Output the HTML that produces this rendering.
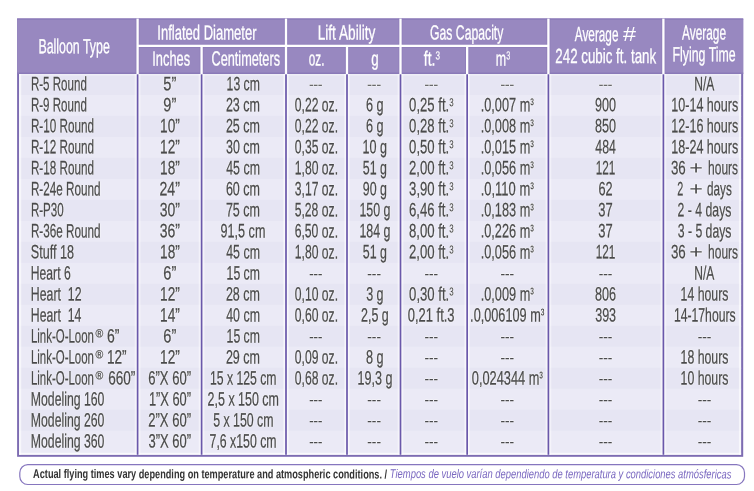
<!DOCTYPE html>
<html lang="en"><head><meta charset="utf-8"><title>Balloon chart</title>
<style>
html,body{margin:0;padding:0;background:#fff;}
body{width:754px;height:491px;position:relative;overflow:hidden;font-family:"Liberation Sans",sans-serif;}
svg{position:absolute;left:0;top:0;}
.t{position:absolute;white-space:nowrap;line-height:1;display:block;transform-origin:0 50%;text-rendering:geometricPrecision;}
.b{color:#4a4a4c;font-size:19.3px;-webkit-text-stroke:0.3px;text-shadow:0 0 1.2px #fff,0 0 1.2px #fff,0 0 1.2px #fff,0 0 2px #fff;}
.h{color:#fff;font-size:20.4px;-webkit-text-stroke:0.3px;}
.f{color:#333;font-size:12.6px;}
.g{color:#7a68c0;font-size:12.6px;}
sup{font-size:60%;vertical-align:baseline;position:relative;top:-0.44em;line-height:0;-webkit-text-stroke:0.15px;}
sup.m{font-size:52%;top:-0.62em;font-weight:bold;-webkit-text-stroke:0;}
sup.hs{font-size:58%;top:-0.52em;}
</style></head><body>
<svg width="754" height="491" viewBox="0 0 754 491">
<rect x="17.10" y="18.60" width="726.10" height="438.20" fill="#7d6cb2"/>
<rect x="17.10" y="18.60" width="726.10" height="55.40" fill="#9888c0"/>
<rect x="17.10" y="18.60" width="726.10" height="1.20" fill="#8a7ab8"/>
<rect x="17.10" y="72.50" width="726.10" height="1.50" fill="#8a7ab8"/>
<rect x="19.00" y="74.00" width="722.10" height="21.98" fill="#e6e5f3"/>
<rect x="19.00" y="94.98" width="722.10" height="21.98" fill="#ebeaf6"/>
<rect x="19.00" y="115.96" width="722.10" height="21.98" fill="#e6e5f3"/>
<rect x="19.00" y="136.94" width="722.10" height="21.98" fill="#ebeaf6"/>
<rect x="19.00" y="157.92" width="722.10" height="21.98" fill="#e6e5f3"/>
<rect x="19.00" y="178.90" width="722.10" height="21.98" fill="#ebeaf6"/>
<rect x="19.00" y="199.88" width="722.10" height="21.98" fill="#e6e5f3"/>
<rect x="19.00" y="220.86" width="722.10" height="21.98" fill="#ebeaf6"/>
<rect x="19.00" y="241.84" width="722.10" height="21.98" fill="#e6e5f3"/>
<rect x="19.00" y="262.82" width="722.10" height="21.98" fill="#ebeaf6"/>
<rect x="19.00" y="283.80" width="722.10" height="21.98" fill="#e6e5f3"/>
<rect x="19.00" y="304.78" width="722.10" height="21.98" fill="#ebeaf6"/>
<rect x="19.00" y="325.76" width="722.10" height="21.98" fill="#e6e5f3"/>
<rect x="19.00" y="346.74" width="722.10" height="21.98" fill="#ebeaf6"/>
<rect x="19.00" y="367.72" width="722.10" height="21.98" fill="#e6e5f3"/>
<rect x="19.00" y="388.70" width="722.10" height="21.98" fill="#ebeaf6"/>
<rect x="19.00" y="409.68" width="722.10" height="21.98" fill="#e6e5f3"/>
<rect x="19.00" y="430.66" width="722.10" height="24.14" fill="#ebeaf6"/>
<rect x="19.00" y="74.00" width="722.10" height="1.60" fill="#fff" opacity="0.35"/>
<rect x="19.00" y="452.80" width="722.10" height="2.00" fill="#fff" opacity="0.7"/>
<rect x="19.00" y="74.00" width="2.20" height="380.80" fill="#fff" opacity="0.6"/>
<rect x="738.90" y="74.00" width="2.20" height="380.80" fill="#fff" opacity="0.6"/>
<rect x="134.70" y="74.00" width="5.80" height="380.80" fill="#fff" opacity="0.4"/>
<rect x="135.70" y="74.00" width="3.80" height="380.80" fill="#fff" opacity="0.55"/>
<rect x="136.75" y="74.30" width="1.70" height="380.50" fill="#6a58aa"/>
<rect x="198.70" y="74.00" width="5.80" height="380.80" fill="#fff" opacity="0.4"/>
<rect x="199.70" y="74.00" width="3.80" height="380.80" fill="#fff" opacity="0.55"/>
<rect x="200.75" y="74.30" width="1.70" height="380.50" fill="#6a58aa"/>
<rect x="283.10" y="74.00" width="5.80" height="380.80" fill="#fff" opacity="0.4"/>
<rect x="284.10" y="74.00" width="3.80" height="380.80" fill="#fff" opacity="0.55"/>
<rect x="285.15" y="74.30" width="1.70" height="380.50" fill="#6a58aa"/>
<rect x="344.10" y="74.00" width="5.80" height="380.80" fill="#fff" opacity="0.4"/>
<rect x="345.10" y="74.00" width="3.80" height="380.80" fill="#fff" opacity="0.55"/>
<rect x="346.15" y="74.30" width="1.70" height="380.50" fill="#6a58aa"/>
<rect x="397.60" y="74.00" width="5.80" height="380.80" fill="#fff" opacity="0.4"/>
<rect x="398.60" y="74.00" width="3.80" height="380.80" fill="#fff" opacity="0.55"/>
<rect x="399.65" y="74.30" width="1.70" height="380.50" fill="#6a58aa"/>
<rect x="464.25" y="74.00" width="5.80" height="380.80" fill="#fff" opacity="0.4"/>
<rect x="465.25" y="74.00" width="3.80" height="380.80" fill="#fff" opacity="0.55"/>
<rect x="466.30" y="74.30" width="1.70" height="380.50" fill="#6a58aa"/>
<rect x="545.50" y="74.00" width="5.80" height="380.80" fill="#fff" opacity="0.4"/>
<rect x="546.50" y="74.00" width="3.80" height="380.80" fill="#fff" opacity="0.55"/>
<rect x="547.55" y="74.30" width="1.70" height="380.50" fill="#6a58aa"/>
<rect x="660.50" y="74.00" width="5.80" height="380.80" fill="#fff" opacity="0.4"/>
<rect x="661.50" y="74.00" width="3.80" height="380.80" fill="#fff" opacity="0.55"/>
<rect x="662.55" y="74.30" width="1.70" height="380.50" fill="#6a58aa"/>
<rect x="137.60" y="43.90" width="410.80" height="3.90" fill="#8a7ab8" opacity="0.6"/>
<rect x="135.55" y="18.60" width="4.10" height="55.40" fill="#8a7ab8" opacity="0.6"/>
<rect x="136.45" y="18.60" width="2.30" height="55.40" fill="#fff"/>
<rect x="283.95" y="18.60" width="4.10" height="55.40" fill="#8a7ab8" opacity="0.6"/>
<rect x="284.85" y="18.60" width="2.30" height="55.40" fill="#fff"/>
<rect x="398.45" y="18.60" width="4.10" height="55.40" fill="#8a7ab8" opacity="0.6"/>
<rect x="399.35" y="18.60" width="2.30" height="55.40" fill="#fff"/>
<rect x="546.35" y="18.60" width="4.10" height="55.40" fill="#8a7ab8" opacity="0.6"/>
<rect x="547.25" y="18.60" width="2.30" height="55.40" fill="#fff"/>
<rect x="661.35" y="18.60" width="4.10" height="55.40" fill="#8a7ab8" opacity="0.6"/>
<rect x="662.25" y="18.60" width="2.30" height="55.40" fill="#fff"/>
<rect x="199.55" y="45.85" width="4.10" height="28.15" fill="#8a7ab8" opacity="0.6"/>
<rect x="200.45" y="45.85" width="2.30" height="28.15" fill="#fff"/>
<rect x="344.95" y="45.85" width="4.10" height="28.15" fill="#8a7ab8" opacity="0.6"/>
<rect x="345.85" y="45.85" width="2.30" height="28.15" fill="#fff"/>
<rect x="465.10" y="45.85" width="4.10" height="28.15" fill="#8a7ab8" opacity="0.6"/>
<rect x="466.00" y="45.85" width="2.30" height="28.15" fill="#fff"/>
<rect x="137.60" y="44.70" width="410.80" height="2.30" fill="#fff"/>
<rect x="19.8" y="464.7" width="724.7" height="19.8" rx="8" ry="8" fill="#fff" stroke="#8676be" stroke-width="1.2"/>
</svg>
<div class="t b" style="left:30px;top:75px;transform:translate(0.90px,0.20px) scaleX(0.6000) rotate(0.05deg);">R-5 Round</div>
<div class="t b" style="left:30px;top:96px;transform:translate(0.90px,0.22px) scaleX(0.6000) rotate(0.05deg);">R-9 Round</div>
<div class="t b" style="left:30px;top:117px;transform:translate(0.89px,0.24px) scaleX(0.6074) rotate(0.05deg);">R-10 Round</div>
<div class="t b" style="left:30px;top:138px;transform:translate(0.89px,0.26px) scaleX(0.6074) rotate(0.05deg);">R-12 Round</div>
<div class="t b" style="left:30px;top:159px;transform:translate(0.89px,0.28px) scaleX(0.6074) rotate(0.05deg);">R-18 Round</div>
<div class="t b" style="left:30px;top:180px;transform:translate(0.89px,0.30px) scaleX(0.6071) rotate(0.05deg);">R-24e Round</div>
<div class="t b" style="left:30px;top:201px;transform:translate(0.90px,0.32px) scaleX(0.6000) rotate(0.05deg);">R-P30</div>
<div class="t b" style="left:30px;top:222px;transform:translate(0.89px,0.34px) scaleX(0.6071) rotate(0.05deg);">R-36e Round</div>
<div class="t b" style="left:30px;top:243px;transform:translate(0.81px,0.36px) scaleX(0.6533) rotate(0.05deg);">Stuff 18</div>
<div class="t b" style="left:30px;top:264px;transform:translate(0.86px,0.38px) scaleX(0.6295) rotate(0.05deg);">Heart 6</div>
<div class="t b" style="left:30px;top:285px;transform:translate(0.84px,0.40px) scaleX(0.6390) rotate(0.05deg);">Heart&nbsp; 12</div>
<div class="t b" style="left:30px;top:306px;transform:translate(0.84px,0.42px) scaleX(0.6369) rotate(0.05deg);">Heart&nbsp; 14</div>
<div class="t b" style="left:30px;top:327px;transform:translate(0.91px,0.44px) scaleX(0.5942) rotate(0.05deg);">Link-O-Loon</div>
<div class="t b" style="left:30px;top:348px;transform:translate(0.91px,0.46px) scaleX(0.5942) rotate(0.05deg);">Link-O-Loon</div>
<div class="t b" style="left:30px;top:369px;transform:translate(0.91px,0.48px) scaleX(0.5942) rotate(0.05deg);">Link-O-Loon</div>
<div class="t b" style="left:30px;top:390px;transform:translate(0.85px,0.50px) scaleX(0.6356) rotate(0.05deg);">Modeling 160</div>
<div class="t b" style="left:30px;top:411px;transform:translate(0.85px,0.52px) scaleX(0.6356) rotate(0.05deg);">Modeling 260</div>
<div class="t b" style="left:30px;top:432px;transform:translate(0.85px,0.54px) scaleX(0.6356) rotate(0.05deg);">Modeling 360</div>
<div class="t b" style="left:95px;top:328px;transform:translate(0.40px,0.24px) scaleX(0.9059) rotate(0.05deg);font-size:11.6px;-webkit-text-stroke:0.25px;">®</div>
<div class="t b" style="left:106px;top:327px;transform:translate(0.96px,0.44px) scaleX(0.7238) rotate(0.05deg);">6”</div>
<div class="t b" style="left:95px;top:349px;transform:translate(0.40px,0.26px) scaleX(0.9059) rotate(0.05deg);font-size:11.6px;-webkit-text-stroke:0.25px;">®</div>
<div class="t b" style="left:106px;top:348px;transform:translate(0.92px,0.46px) scaleX(0.7038) rotate(0.05deg);">12”</div>
<div class="t b" style="left:95px;top:370px;transform:translate(0.40px,0.28px) scaleX(0.9059) rotate(0.05deg);font-size:11.6px;-webkit-text-stroke:0.25px;">®</div>
<div class="t b" style="left:108px;top:369px;transform:translate(0.17px,0.48px) scaleX(0.7034) rotate(0.05deg);">660”</div>
<div class="t b" style="left:163px;top:75px;transform:translate(0.33px,0.20px) scaleX(0.7556) rotate(0.05deg);">5”</div>
<div class="t b" style="left:163px;top:96px;transform:translate(0.33px,0.22px) scaleX(0.7556) rotate(0.05deg);">9”</div>
<div class="t b" style="left:160px;top:117px;transform:translate(0.12px,0.24px) scaleX(0.7077) rotate(0.05deg);">10”</div>
<div class="t b" style="left:160px;top:138px;transform:translate(0.12px,0.26px) scaleX(0.7077) rotate(0.05deg);">12”</div>
<div class="t b" style="left:160px;top:159px;transform:translate(0.12px,0.28px) scaleX(0.7077) rotate(0.05deg);">18”</div>
<div class="t b" style="left:159px;top:180px;transform:translate(0.45px,0.30px) scaleX(0.7321) rotate(0.05deg);">24”</div>
<div class="t b" style="left:159px;top:201px;transform:translate(0.64px,0.32px) scaleX(0.7252) rotate(0.05deg);">30”</div>
<div class="t b" style="left:159px;top:222px;transform:translate(0.64px,0.34px) scaleX(0.7252) rotate(0.05deg);">36”</div>
<div class="t b" style="left:160px;top:243px;transform:translate(0.12px,0.36px) scaleX(0.7077) rotate(0.05deg);">18”</div>
<div class="t b" style="left:163px;top:264px;transform:translate(0.33px,0.38px) scaleX(0.7556) rotate(0.05deg);">6”</div>
<div class="t b" style="left:160px;top:285px;transform:translate(0.12px,0.40px) scaleX(0.7077) rotate(0.05deg);">12”</div>
<div class="t b" style="left:160px;top:306px;transform:translate(0.12px,0.42px) scaleX(0.7077) rotate(0.05deg);">14”</div>
<div class="t b" style="left:163px;top:327px;transform:translate(0.33px,0.44px) scaleX(0.7556) rotate(0.05deg);">6”</div>
<div class="t b" style="left:160px;top:348px;transform:translate(0.12px,0.46px) scaleX(0.7077) rotate(0.05deg);">12”</div>
<div class="t b" style="left:148px;top:369px;transform:translate(0.29px,0.48px) scaleX(0.6758) rotate(0.05deg);">6”X 60”</div>
<div class="t b" style="left:148px;top:390px;transform:translate(0.97px,0.50px) scaleX(0.6650) rotate(0.05deg);">1”X 60”</div>
<div class="t b" style="left:148px;top:411px;transform:translate(0.29px,0.52px) scaleX(0.6758) rotate(0.05deg);">2”X 60”</div>
<div class="t b" style="left:148px;top:432px;transform:translate(0.46px,0.54px) scaleX(0.6731) rotate(0.05deg);">3”X 60”</div>
<div class="t b" style="left:226px;top:75px;transform:translate(0.61px,0.20px) scaleX(0.6348) rotate(0.05deg);">13 cm</div>
<div class="t b" style="left:225px;top:96px;transform:translate(0.91px,0.22px) scaleX(0.6483) rotate(0.05deg);">23 cm</div>
<div class="t b" style="left:225px;top:117px;transform:translate(0.91px,0.24px) scaleX(0.6483) rotate(0.05deg);">25 cm</div>
<div class="t b" style="left:226px;top:138px;transform:translate(0.08px,0.26px) scaleX(0.6451) rotate(0.05deg);">30 cm</div>
<div class="t b" style="left:226px;top:159px;transform:translate(0.24px,0.28px) scaleX(0.6420) rotate(0.05deg);">45 cm</div>
<div class="t b" style="left:225px;top:180px;transform:translate(0.91px,0.30px) scaleX(0.6483) rotate(0.05deg);">60 cm</div>
<div class="t b" style="left:225px;top:201px;transform:translate(0.91px,0.32px) scaleX(0.6483) rotate(0.05deg);">75 cm</div>
<div class="t b" style="left:220px;top:222px;transform:translate(0.61px,0.34px) scaleX(0.6532) rotate(0.05deg);">91,5 cm</div>
<div class="t b" style="left:226px;top:243px;transform:translate(0.24px,0.36px) scaleX(0.6420) rotate(0.05deg);">45 cm</div>
<div class="t b" style="left:226px;top:264px;transform:translate(0.61px,0.38px) scaleX(0.6348) rotate(0.05deg);">15 cm</div>
<div class="t b" style="left:225px;top:285px;transform:translate(0.91px,0.40px) scaleX(0.6483) rotate(0.05deg);">28 cm</div>
<div class="t b" style="left:226px;top:306px;transform:translate(0.24px,0.42px) scaleX(0.6420) rotate(0.05deg);">40 cm</div>
<div class="t b" style="left:226px;top:327px;transform:translate(0.61px,0.44px) scaleX(0.6348) rotate(0.05deg);">15 cm</div>
<div class="t b" style="left:225px;top:348px;transform:translate(0.91px,0.46px) scaleX(0.6483) rotate(0.05deg);">29 cm</div>
<div class="t b" style="left:209px;top:369px;transform:translate(0.91px,0.48px) scaleX(0.6345) rotate(0.05deg);">15 x 125 cm</div>
<div class="t b" style="left:207px;top:390px;transform:translate(0.62px,0.50px) scaleX(0.6461) rotate(0.05deg);">2,5 x 150 cm</div>
<div class="t b" style="left:213px;top:411px;transform:translate(0.22px,0.52px) scaleX(0.6400) rotate(0.05deg);">5 x 150 cm</div>
<div class="t b" style="left:209px;top:432px;transform:translate(0.62px,0.54px) scaleX(0.6373) rotate(0.05deg);">7,6 x150 cm</div>
<div class="t b" style="left:309px;top:77px;transform:translate(0.23px,0.00px) scaleX(0.9385) rotate(0.05deg);font-size:14px;-webkit-text-stroke:0.15px;">---</div>
<div class="t b" style="left:294px;top:96px;transform:translate(0.78px,0.22px) scaleX(0.6301) rotate(0.05deg);">0,22 oz.</div>
<div class="t b" style="left:294px;top:117px;transform:translate(0.78px,0.24px) scaleX(0.6301) rotate(0.05deg);">0,22 oz.</div>
<div class="t b" style="left:294px;top:138px;transform:translate(0.78px,0.26px) scaleX(0.6301) rotate(0.05deg);">0,35 oz.</div>
<div class="t b" style="left:294px;top:159px;transform:translate(0.81px,0.28px) scaleX(0.6297) rotate(0.05deg);">1,80 oz.</div>
<div class="t b" style="left:294px;top:180px;transform:translate(0.78px,0.30px) scaleX(0.6301) rotate(0.05deg);">3,17 oz.</div>
<div class="t b" style="left:294px;top:201px;transform:translate(0.63px,0.32px) scaleX(0.6325) rotate(0.05deg);">5,28 oz.</div>
<div class="t b" style="left:294px;top:222px;transform:translate(0.63px,0.34px) scaleX(0.6325) rotate(0.05deg);">6,50 oz.</div>
<div class="t b" style="left:294px;top:243px;transform:translate(0.81px,0.36px) scaleX(0.6297) rotate(0.05deg);">1,80 oz.</div>
<div class="t b" style="left:309px;top:266px;transform:translate(0.23px,0.18px) scaleX(0.9385) rotate(0.05deg);font-size:14px;-webkit-text-stroke:0.15px;">---</div>
<div class="t b" style="left:294px;top:285px;transform:translate(0.78px,0.40px) scaleX(0.6301) rotate(0.05deg);">0,10 oz.</div>
<div class="t b" style="left:294px;top:306px;transform:translate(0.78px,0.42px) scaleX(0.6301) rotate(0.05deg);">0,60 oz.</div>
<div class="t b" style="left:309px;top:329px;transform:translate(0.23px,0.24px) scaleX(0.9385) rotate(0.05deg);font-size:14px;-webkit-text-stroke:0.15px;">---</div>
<div class="t b" style="left:294px;top:348px;transform:translate(0.78px,0.46px) scaleX(0.6301) rotate(0.05deg);">0,09 oz.</div>
<div class="t b" style="left:294px;top:369px;transform:translate(0.78px,0.48px) scaleX(0.6301) rotate(0.05deg);">0,68 oz.</div>
<div class="t b" style="left:309px;top:392px;transform:translate(0.23px,0.30px) scaleX(0.9385) rotate(0.05deg);font-size:14px;-webkit-text-stroke:0.15px;">---</div>
<div class="t b" style="left:309px;top:413px;transform:translate(0.23px,0.32px) scaleX(0.9385) rotate(0.05deg);font-size:14px;-webkit-text-stroke:0.15px;">---</div>
<div class="t b" style="left:309px;top:434px;transform:translate(0.23px,0.34px) scaleX(0.9385) rotate(0.05deg);font-size:14px;-webkit-text-stroke:0.15px;">---</div>
<div class="t b" style="left:367px;top:77px;transform:translate(0.31px,0.00px) scaleX(0.9769) rotate(0.05deg);font-size:14px;-webkit-text-stroke:0.15px;">---</div>
<div class="t b" style="left:366px;top:96px;transform:translate(0.01px,0.22px) scaleX(0.6560) rotate(0.05deg);">6 g</div>
<div class="t b" style="left:366px;top:117px;transform:translate(0.01px,0.24px) scaleX(0.6560) rotate(0.05deg);">6 g</div>
<div class="t b" style="left:362px;top:138px;transform:translate(0.48px,0.26px) scaleX(0.6525) rotate(0.05deg);">10 g</div>
<div class="t b" style="left:362px;top:159px;transform:translate(0.82px,0.28px) scaleX(0.6434) rotate(0.05deg);">51 g</div>
<div class="t b" style="left:362px;top:180px;transform:translate(0.82px,0.30px) scaleX(0.6434) rotate(0.05deg);">90 g</div>
<div class="t b" style="left:359px;top:201px;transform:translate(0.39px,0.32px) scaleX(0.6448) rotate(0.05deg);">150 g</div>
<div class="t b" style="left:359px;top:222px;transform:translate(0.39px,0.34px) scaleX(0.6448) rotate(0.05deg);">184 g</div>
<div class="t b" style="left:362px;top:243px;transform:translate(0.82px,0.36px) scaleX(0.6434) rotate(0.05deg);">51 g</div>
<div class="t b" style="left:367px;top:266px;transform:translate(0.31px,0.18px) scaleX(0.9769) rotate(0.05deg);font-size:14px;-webkit-text-stroke:0.15px;">---</div>
<div class="t b" style="left:366px;top:285px;transform:translate(0.18px,0.40px) scaleX(0.6495) rotate(0.05deg);">3 g</div>
<div class="t b" style="left:361px;top:306px;transform:translate(0.02px,0.42px) scaleX(0.6463) rotate(0.05deg);">2,5 g</div>
<div class="t b" style="left:367px;top:329px;transform:translate(0.31px,0.24px) scaleX(0.9769) rotate(0.05deg);font-size:14px;-webkit-text-stroke:0.15px;">---</div>
<div class="t b" style="left:366px;top:348px;transform:translate(0.01px,0.46px) scaleX(0.6560) rotate(0.05deg);">8 g</div>
<div class="t b" style="left:357px;top:369px;transform:translate(0.59px,0.48px) scaleX(0.6517) rotate(0.05deg);">19,3 g</div>
<div class="t b" style="left:367px;top:392px;transform:translate(0.31px,0.30px) scaleX(0.9769) rotate(0.05deg);font-size:14px;-webkit-text-stroke:0.15px;">---</div>
<div class="t b" style="left:367px;top:413px;transform:translate(0.31px,0.32px) scaleX(0.9769) rotate(0.05deg);font-size:14px;-webkit-text-stroke:0.15px;">---</div>
<div class="t b" style="left:367px;top:434px;transform:translate(0.31px,0.34px) scaleX(0.9769) rotate(0.05deg);font-size:14px;-webkit-text-stroke:0.15px;">---</div>
<div class="t b" style="left:424px;top:77px;transform:translate(0.42px,0.00px) scaleX(0.9692) rotate(0.05deg);font-size:14px;-webkit-text-stroke:0.15px;">---</div>
<div class="t b" style="left:409px;top:96px;transform:translate(0.11px,0.22px) scaleX(0.6798) rotate(0.05deg);">0,25 ft.<sup>3</sup></div>
<div class="t b" style="left:409px;top:117px;transform:translate(0.11px,0.24px) scaleX(0.6798) rotate(0.05deg);">0,28 ft.<sup>3</sup></div>
<div class="t b" style="left:409px;top:138px;transform:translate(0.11px,0.26px) scaleX(0.6798) rotate(0.05deg);">0,50 ft.<sup>3</sup></div>
<div class="t b" style="left:408px;top:159px;transform:translate(0.94px,0.28px) scaleX(0.6825) rotate(0.05deg);">2,00 ft.<sup>3</sup></div>
<div class="t b" style="left:409px;top:180px;transform:translate(0.11px,0.30px) scaleX(0.6798) rotate(0.05deg);">3,90 ft.<sup>3</sup></div>
<div class="t b" style="left:408px;top:201px;transform:translate(0.94px,0.32px) scaleX(0.6825) rotate(0.05deg);">6,46 ft.<sup>3</sup></div>
<div class="t b" style="left:408px;top:222px;transform:translate(0.94px,0.34px) scaleX(0.6825) rotate(0.05deg);">8,00 ft.<sup>3</sup></div>
<div class="t b" style="left:408px;top:243px;transform:translate(0.94px,0.36px) scaleX(0.6825) rotate(0.05deg);">2,00 ft.<sup>3</sup></div>
<div class="t b" style="left:424px;top:266px;transform:translate(0.42px,0.18px) scaleX(0.9692) rotate(0.05deg);font-size:14px;-webkit-text-stroke:0.15px;">---</div>
<div class="t b" style="left:409px;top:285px;transform:translate(0.11px,0.40px) scaleX(0.6798) rotate(0.05deg);">0,30 ft.<sup>3</sup></div>
<div class="t b" style="left:407px;top:306px;transform:translate(0.76px,0.42px) scaleX(0.6715) rotate(0.05deg);">0,21 ft.3</div>
<div class="t b" style="left:424px;top:329px;transform:translate(0.42px,0.24px) scaleX(0.9692) rotate(0.05deg);font-size:14px;-webkit-text-stroke:0.15px;">---</div>
<div class="t b" style="left:424px;top:350px;transform:translate(0.42px,0.26px) scaleX(0.9692) rotate(0.05deg);font-size:14px;-webkit-text-stroke:0.15px;">---</div>
<div class="t b" style="left:424px;top:371px;transform:translate(0.42px,0.28px) scaleX(0.9692) rotate(0.05deg);font-size:14px;-webkit-text-stroke:0.15px;">---</div>
<div class="t b" style="left:424px;top:392px;transform:translate(0.42px,0.30px) scaleX(0.9692) rotate(0.05deg);font-size:14px;-webkit-text-stroke:0.15px;">---</div>
<div class="t b" style="left:424px;top:413px;transform:translate(0.42px,0.32px) scaleX(0.9692) rotate(0.05deg);font-size:14px;-webkit-text-stroke:0.15px;">---</div>
<div class="t b" style="left:424px;top:434px;transform:translate(0.42px,0.34px) scaleX(0.9692) rotate(0.05deg);font-size:14px;-webkit-text-stroke:0.15px;">---</div>
<div class="t b" style="left:500px;top:77px;transform:translate(0.51px,0.00px) scaleX(0.9769) rotate(0.05deg);font-size:14px;-webkit-text-stroke:0.15px;">---</div>
<div class="t b" style="left:480px;top:96px;transform:translate(0.71px,0.22px) scaleX(0.6603) rotate(0.05deg);">.0,007 m<sup class="m">3</sup></div>
<div class="t b" style="left:480px;top:117px;transform:translate(0.71px,0.24px) scaleX(0.6603) rotate(0.05deg);">.0,008 m<sup class="m">3</sup></div>
<div class="t b" style="left:480px;top:138px;transform:translate(0.71px,0.26px) scaleX(0.6603) rotate(0.05deg);">.0,015 m<sup class="m">3</sup></div>
<div class="t b" style="left:480px;top:159px;transform:translate(0.71px,0.28px) scaleX(0.6603) rotate(0.05deg);">.0,056 m<sup class="m">3</sup></div>
<div class="t b" style="left:480px;top:180px;transform:translate(0.69px,0.30px) scaleX(0.6731) rotate(0.05deg);">.0,110 m<sup class="m">3</sup></div>
<div class="t b" style="left:480px;top:201px;transform:translate(0.71px,0.32px) scaleX(0.6603) rotate(0.05deg);">.0,183 m<sup class="m">3</sup></div>
<div class="t b" style="left:480px;top:222px;transform:translate(0.71px,0.34px) scaleX(0.6603) rotate(0.05deg);">.0,226 m<sup class="m">3</sup></div>
<div class="t b" style="left:480px;top:243px;transform:translate(0.71px,0.36px) scaleX(0.6603) rotate(0.05deg);">.0,056 m<sup class="m">3</sup></div>
<div class="t b" style="left:500px;top:266px;transform:translate(0.51px,0.18px) scaleX(0.9769) rotate(0.05deg);font-size:14px;-webkit-text-stroke:0.15px;">---</div>
<div class="t b" style="left:480px;top:285px;transform:translate(0.71px,0.40px) scaleX(0.6603) rotate(0.05deg);">.0,009 m<sup class="m">3</sup></div>
<div class="t b" style="left:470px;top:306px;transform:translate(0.11px,0.42px) scaleX(0.6586) rotate(0.05deg);">.0,006109 m<sup class="m">3</sup></div>
<div class="t b" style="left:500px;top:329px;transform:translate(0.51px,0.24px) scaleX(0.9769) rotate(0.05deg);font-size:14px;-webkit-text-stroke:0.15px;">---</div>
<div class="t b" style="left:500px;top:350px;transform:translate(0.51px,0.26px) scaleX(0.9769) rotate(0.05deg);font-size:14px;-webkit-text-stroke:0.15px;">---</div>
<div class="t b" style="left:471px;top:369px;transform:translate(0.77px,0.48px) scaleX(0.6638) rotate(0.05deg);">0,024344 m<sup class="m">3</sup></div>
<div class="t b" style="left:500px;top:392px;transform:translate(0.51px,0.30px) scaleX(0.9769) rotate(0.05deg);font-size:14px;-webkit-text-stroke:0.15px;">---</div>
<div class="t b" style="left:500px;top:413px;transform:translate(0.51px,0.32px) scaleX(0.9769) rotate(0.05deg);font-size:14px;-webkit-text-stroke:0.15px;">---</div>
<div class="t b" style="left:500px;top:434px;transform:translate(0.51px,0.34px) scaleX(0.9769) rotate(0.05deg);font-size:14px;-webkit-text-stroke:0.15px;">---</div>
<div class="t b" style="left:598px;top:77px;transform:translate(0.82px,0.00px) scaleX(0.9692) rotate(0.05deg);font-size:14px;-webkit-text-stroke:0.15px;">---</div>
<div class="t b" style="left:595px;top:96px;transform:translate(0.01px,0.22px) scaleX(0.6537) rotate(0.05deg);">900</div>
<div class="t b" style="left:595px;top:117px;transform:translate(0.01px,0.24px) scaleX(0.6537) rotate(0.05deg);">850</div>
<div class="t b" style="left:595px;top:138px;transform:translate(0.34px,0.26px) scaleX(0.6381) rotate(0.05deg);">484</div>
<div class="t b" style="left:595px;top:159px;transform:translate(0.64px,0.28px) scaleX(0.6100) rotate(0.05deg);">121</div>
<div class="t b" style="left:598px;top:180px;transform:translate(0.50px,0.30px) scaleX(0.6600) rotate(0.05deg);">62</div>
<div class="t b" style="left:598px;top:201px;transform:translate(0.26px,0.32px) scaleX(0.6716) rotate(0.05deg);">37</div>
<div class="t b" style="left:598px;top:222px;transform:translate(0.26px,0.34px) scaleX(0.6716) rotate(0.05deg);">37</div>
<div class="t b" style="left:595px;top:243px;transform:translate(0.64px,0.36px) scaleX(0.6100) rotate(0.05deg);">121</div>
<div class="t b" style="left:598px;top:266px;transform:translate(0.82px,0.18px) scaleX(0.9692) rotate(0.05deg);font-size:14px;-webkit-text-stroke:0.15px;">---</div>
<div class="t b" style="left:595px;top:285px;transform:translate(0.01px,0.40px) scaleX(0.6537) rotate(0.05deg);">806</div>
<div class="t b" style="left:595px;top:306px;transform:translate(0.18px,0.42px) scaleX(0.6484) rotate(0.05deg);">393</div>
<div class="t b" style="left:598px;top:329px;transform:translate(0.82px,0.24px) scaleX(0.9692) rotate(0.05deg);font-size:14px;-webkit-text-stroke:0.15px;">---</div>
<div class="t b" style="left:598px;top:350px;transform:translate(0.82px,0.26px) scaleX(0.9692) rotate(0.05deg);font-size:14px;-webkit-text-stroke:0.15px;">---</div>
<div class="t b" style="left:598px;top:371px;transform:translate(0.82px,0.28px) scaleX(0.9692) rotate(0.05deg);font-size:14px;-webkit-text-stroke:0.15px;">---</div>
<div class="t b" style="left:598px;top:392px;transform:translate(0.82px,0.30px) scaleX(0.9692) rotate(0.05deg);font-size:14px;-webkit-text-stroke:0.15px;">---</div>
<div class="t b" style="left:598px;top:413px;transform:translate(0.82px,0.32px) scaleX(0.9692) rotate(0.05deg);font-size:14px;-webkit-text-stroke:0.15px;">---</div>
<div class="t b" style="left:598px;top:434px;transform:translate(0.82px,0.34px) scaleX(0.9692) rotate(0.05deg);font-size:14px;-webkit-text-stroke:0.15px;">---</div>
<div class="t b" style="left:694px;top:75px;transform:translate(0.26px,0.20px) scaleX(0.6244) rotate(0.05deg);">N/A</div>
<div class="t b" style="left:671px;top:96px;transform:translate(0.29px,0.22px) scaleX(0.6505) rotate(0.05deg);">10-14 hours</div>
<div class="t b" style="left:671px;top:117px;transform:translate(0.29px,0.24px) scaleX(0.6505) rotate(0.05deg);">12-16 hours</div>
<div class="t b" style="left:671px;top:138px;transform:translate(0.29px,0.26px) scaleX(0.6505) rotate(0.05deg);">18-24 hours</div>
<div class="t b" style="left:670px;top:159px;transform:translate(0.95px,0.28px) scaleX(0.6914) rotate(0.05deg);">36</div>
<div class="t b" style="left:689px;top:159px;transform:translate(0.19px,0.28px) scaleX(1.2108) rotate(0.05deg);-webkit-text-stroke:0;">+</div>
<div class="t b" style="left:708px;top:159px;transform:translate(0.12px,0.28px) scaleX(0.6215) rotate(0.05deg);">hours</div>
<div class="t b" style="left:677px;top:180px;transform:translate(0.18px,0.30px) scaleX(0.5622) rotate(0.05deg);">2</div>
<div class="t b" style="left:689px;top:180px;transform:translate(0.19px,0.30px) scaleX(1.2108) rotate(0.05deg);-webkit-text-stroke:0;">+</div>
<div class="t b" style="left:707px;top:180px;transform:translate(0.04px,0.30px) scaleX(0.6076) rotate(0.05deg);">days</div>
<div class="t b" style="left:677px;top:201px;transform:translate(0.62px,0.32px) scaleX(0.6354) rotate(0.05deg);">2 - 4 days</div>
<div class="t b" style="left:677px;top:222px;transform:translate(0.78px,0.34px) scaleX(0.6335) rotate(0.05deg);">3 - 5 days</div>
<div class="t b" style="left:670px;top:243px;transform:translate(0.95px,0.36px) scaleX(0.6914) rotate(0.05deg);">36</div>
<div class="t b" style="left:689px;top:243px;transform:translate(0.19px,0.36px) scaleX(1.2108) rotate(0.05deg);-webkit-text-stroke:0;">+</div>
<div class="t b" style="left:708px;top:243px;transform:translate(0.12px,0.36px) scaleX(0.6215) rotate(0.05deg);">hours</div>
<div class="t b" style="left:694px;top:264px;transform:translate(0.26px,0.38px) scaleX(0.6244) rotate(0.05deg);">N/A</div>
<div class="t b" style="left:680px;top:285px;transform:translate(0.60px,0.40px) scaleX(0.6375) rotate(0.05deg);">14 hours</div>
<div class="t b" style="left:673px;top:306px;transform:translate(0.91px,0.42px) scaleX(0.6329) rotate(0.05deg);">14-17hours</div>
<div class="t b" style="left:697px;top:329px;transform:translate(0.72px,0.24px) scaleX(0.9692) rotate(0.05deg);font-size:14px;-webkit-text-stroke:0.15px;">---</div>
<div class="t b" style="left:680px;top:348px;transform:translate(0.60px,0.46px) scaleX(0.6375) rotate(0.05deg);">18 hours</div>
<div class="t b" style="left:680px;top:369px;transform:translate(0.60px,0.48px) scaleX(0.6375) rotate(0.05deg);">10 hours</div>
<div class="t b" style="left:697px;top:392px;transform:translate(0.72px,0.30px) scaleX(0.9692) rotate(0.05deg);font-size:14px;-webkit-text-stroke:0.15px;">---</div>
<div class="t b" style="left:697px;top:413px;transform:translate(0.72px,0.32px) scaleX(0.9692) rotate(0.05deg);font-size:14px;-webkit-text-stroke:0.15px;">---</div>
<div class="t b" style="left:697px;top:434px;transform:translate(0.72px,0.34px) scaleX(0.9692) rotate(0.05deg);font-size:14px;-webkit-text-stroke:0.15px;">---</div>
<div class="t h" style="left:38px;top:37px;transform:translate(0.39px,0.20px) scaleX(0.6082) rotate(0.05deg);">Balloon Type</div>
<div class="t h" style="left:157px;top:23px;transform:translate(0.28px,0.50px) scaleX(0.6395) rotate(0.05deg);">Inflated Diameter</div>
<div class="t h" style="left:317px;top:23px;transform:translate(0.69px,0.50px) scaleX(0.6702) rotate(0.05deg);">Lift Ability</div>
<div class="t h" style="left:430px;top:23px;transform:translate(0.10px,0.50px) scaleX(0.5984) rotate(0.05deg);">Gas Capacity</div>
<div class="t h" style="left:152px;top:49px;transform:translate(0.30px,0.50px) scaleX(0.6286) rotate(0.05deg);">Inches</div>
<div class="t h" style="left:211px;top:49px;transform:translate(0.48px,0.50px) scaleX(0.6236) rotate(0.05deg);">Centimeters</div>
<div class="t h" style="left:308px;top:49px;transform:translate(0.77px,0.50px) scaleX(0.5778) rotate(0.05deg);">oz.</div>
<div class="t h" style="left:371px;top:49px;transform:translate(0.21px,0.50px) scaleX(0.6526) rotate(0.05deg);">g</div>
<div class="t h" style="left:423px;top:49px;transform:translate(0.83px,0.50px) scaleX(0.6870) rotate(0.05deg);">ft.<sup class="hs">3</sup></div>
<div class="t h" style="left:495px;top:49px;transform:translate(0.84px,0.50px) scaleX(0.6091) rotate(0.05deg);">m<sup class="hs">3</sup></div>
<div class="t h" style="left:574px;top:25px;transform:translate(0.80px,0.10px) scaleX(0.5779) rotate(0.05deg);">Average</div>
<div class="t h" style="left:623px;top:25px;transform:translate(0.00px,0.10px) scaleX(1.1467) rotate(0.05deg);-webkit-text-stroke:0;">#</div>
<div class="t h" style="left:555px;top:47px;transform:translate(0.35px,0.00px) scaleX(0.6538) rotate(0.05deg);">242 cubic ft. tank</div>
<div class="t h" style="left:682px;top:23px;transform:translate(0.00px,0.50px) scaleX(0.5833) rotate(0.05deg);">Average</div>
<div class="t h" style="left:672px;top:45px;transform:translate(0.49px,0.20px) scaleX(0.6059) rotate(0.05deg);">Flying Time</div>
<div class="t f" style="left:33px;top:468px;transform:translate(0.12px,0.00px) scaleX(0.7289) rotate(0.05deg);font-weight:bold;">Actual flying times vary depending on temperature and atmospheric conditions. /</div>
<div class="t g" style="left:389px;top:468px;transform:translate(0.87px,0.00px) scaleX(0.7461) rotate(0.05deg);font-style:italic;">Tiempos de vuelo varían dependiendo de temperatura y condiciones atmósfericas</div>
</body></html>
